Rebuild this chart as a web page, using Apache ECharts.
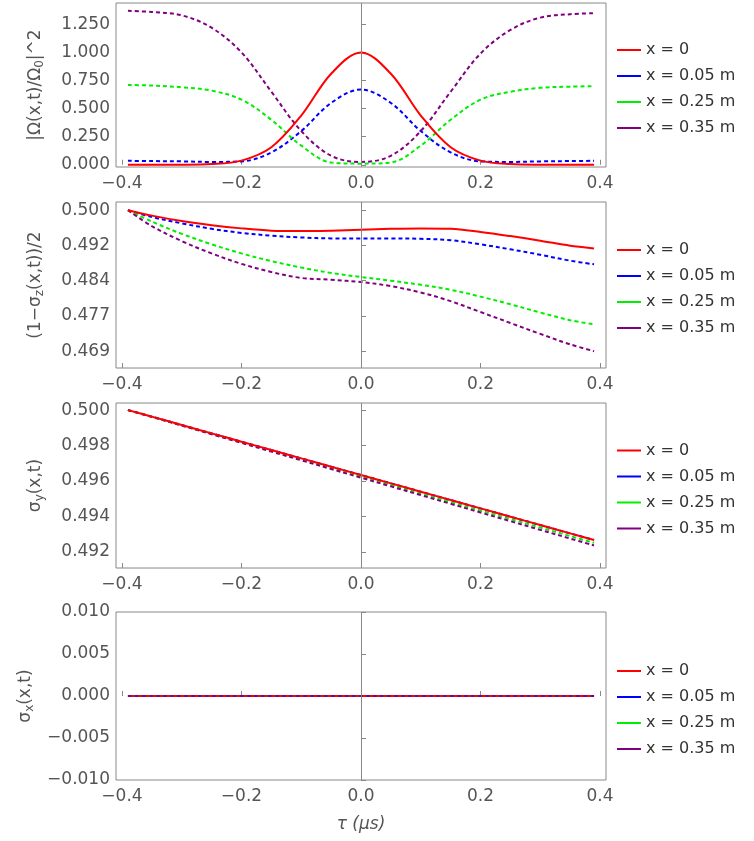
<!DOCTYPE html>
<html><head><meta charset="utf-8">
<script src="https://cdn.jsdelivr.net/npm/echarts@6/dist/echarts.min.js"></script>
<style>body{margin:0;background:#fff}#main{width:754px;height:841px}</style>
</head><body><div id="main"></div>
<script>
var myChart = echarts.init(document.getElementById('main'));

// time points (μs)
var tau = [-0.39, -0.35, -0.3, -0.25, -0.2, -0.15, -0.1, -0.05, 0, 0.05, 0.1, 0.15, 0.2, 0.25, 0.3, 0.35, 0.39];
var names = ['x = 0', 'x = 0.05 m', 'x = 0.25 m', 'x = 0.35 m'];
var colors = ['#ff0000', '#0000ff', '#00ee00', '#800080'];

// panel 1: |Ω/Ω0|^2
var om0 = [0, 0, 0.0006, 0.006, 0.037, 0.156, 0.438, 0.81, 1.0, 0.81, 0.438, 0.156, 0.037, 0.006, 0.0006, 0, 0];
var om05 = [0.035, 0.033, 0.03, 0.025, 0.03, 0.11, 0.3, 0.55, 0.67, 0.55, 0.3, 0.11, 0.03, 0.025, 0.03, 0.033, 0.035];
var om25 = [0.71, 0.705, 0.69, 0.66, 0.58, 0.4, 0.17, 0.02, 0.01, 0.02, 0.17, 0.4, 0.58, 0.65, 0.685, 0.695, 0.70];
var om35 = [1.37, 1.36, 1.33, 1.22, 1.0, 0.65, 0.3, 0.08, 0.025, 0.08, 0.3, 0.65, 0.99, 1.2, 1.31, 1.34, 1.35];

// panel 2: (1-σz)/2
var sz0 = [0.5, 0.4988, 0.4976, 0.4967, 0.4960, 0.4955, 0.4954, 0.4955, 0.4957, 0.4959, 0.4960, 0.4959, 0.4952, 0.4943, 0.4933, 0.4922, 0.4916];
var sz05 = [0.5, 0.4985, 0.4971, 0.4959, 0.4950, 0.4944, 0.4940, 0.4938, 0.4938, 0.4938, 0.4937, 0.4934, 0.4925, 0.4914, 0.4902, 0.4889, 0.4881];
var sz25 = [0.5, 0.4975, 0.4948, 0.4925, 0.4905, 0.4888, 0.4874, 0.4862, 0.4853, 0.4845, 0.4836, 0.4825, 0.4810, 0.4793, 0.4775, 0.4758, 0.4749];
var sz35 = [0.5, 0.4965, 0.4932, 0.4905, 0.4882, 0.4864, 0.4851, 0.4847, 0.4842, 0.4833, 0.4819, 0.4800, 0.4776, 0.4752, 0.4728, 0.4705, 0.4690];

// panel 3: σy
var sy0 = [0.5, 0.49963, 0.49916, 0.49869, 0.49822, 0.49775, 0.49728, 0.49681, 0.49634, 0.49587, 0.49540, 0.49493, 0.49446, 0.49399, 0.49352, 0.49305, 0.49268];
var sy05 = [0.5, 0.49963, 0.49916, 0.49869, 0.49822, 0.49775, 0.49728, 0.49681, 0.49634, 0.49587, 0.49540, 0.49493, 0.49446, 0.49399, 0.49352, 0.49305, 0.49268];
var sy25 = [0.5, 0.49962, 0.49914, 0.49866, 0.49818, 0.49770, 0.49722, 0.49674, 0.49626, 0.49578, 0.49530, 0.49482, 0.49434, 0.49386, 0.49338, 0.49290, 0.49252];
var sy35 = [0.5, 0.49962, 0.49913, 0.49864, 0.49815, 0.49766, 0.49717, 0.49668, 0.49619, 0.49570, 0.49521, 0.49472, 0.49423, 0.49374, 0.49325, 0.49276, 0.49237];

// panel 4: σx
var sx = [0, 0, 0, 0, 0, 0, 0, 0, 0, 0, 0, 0, 0, 0, 0, 0, 0];

var yTicks = [
  [0, 0.25, 0.5, 0.75, 1.0, 1.25],
  [0.469, 0.47675, 0.4845, 0.49225, 0.5],
  [0.492, 0.494, 0.496, 0.498, 0.5],
  [-0.01, -0.005, 0, 0.005, 0.01]
];
var yLabelsTxt = [
  ['0.000', '0.250', '0.500', '0.750', '1.000', '1.250'],
  ['0.469', '0.477', '0.484', '0.492', '0.500'],
  ['0.492', '0.494', '0.496', '0.498', '0.500'],
  ['\u22120.010', '\u22120.005', '0.000', '0.005', '0.010']
];
var yRange = [[-0.02, 1.44], [0.4653, 0.5018], [0.4911, 0.5004], [-0.01, 0.01]];
var yNames = [
  '|\u03A9(x,t)/\u03A9{s|0}|^2',
  '(1\u2212\u03C3{s|z}(x,t))/2',
  '\u03C3{s|y}(x,t)',
  '\u03C3{s|x}(x,t)'
];
var panelData = [[om0, om05, om25, om35], [sz0, sz05, sz25, sz35], [sy0, sy05, sy25, sy35], [sx, sx, sx, sx]];
var tops = [3, 202, 403, 612];
var bottoms = [167, 368, 568, 780];

var grid = [], xAxis = [], yAxis = [], series = [], legend = [];
for (var p = 0; p < 4; p++) {
  grid.push({ left: 116, width: 490, top: tops[p], height: bottoms[p] - tops[p], show: true, borderColor: '#888', borderWidth: 1 });
  xAxis.push({
    type: 'value', gridIndex: p, min: -0.41, max: 0.41,
    name: p === 3 ? '\u03C4 (\u03BCs)' : '', nameLocation: 'middle', nameGap: 36,
    nameTextStyle: { fontSize: 17, color: '#555', fontStyle: 'italic', fontFamily: 'DejaVu Sans' },
    axisLine: { show: false },
    axisTick: { inside: true, length: 5, lineStyle: { color: '#888' }, customValues: [-0.4, -0.2, 0, 0.2, 0.4] },
    splitLine: { show: false },
    axisLabel: { customValues: [-0.4, -0.2, 0, 0.2, 0.4], fontSize: 17, color: '#555', fontFamily: 'DejaVu Sans',
      formatter: function (v) { return (v < 0 ? '\u2212' : '') + Math.abs(v).toFixed(1); } }
  });
  (function (p) {
    yAxis.push({
      type: 'value', gridIndex: p, min: yRange[p][0], max: yRange[p][1],
      name: yNames[p], nameLocation: 'middle', nameGap: p === 3 ? 80 : 70, nameRotate: 90,
      nameTextStyle: { fontSize: 17, color: '#555', fontFamily: 'DejaVu Sans', rich: { s: { fontSize: 12, color: '#555', padding: [8, 0, 0, 0] } } },
      axisLine: { show: false },
      axisTick: { inside: true, length: 5, lineStyle: { color: '#888' }, customValues: yTicks[p] },
      splitLine: { show: false },
      axisLabel: { customValues: yTicks[p], fontSize: 17, color: '#555', fontFamily: 'DejaVu Sans', margin: 6,
        formatter: function (v) {
          var i = yTicks[p].indexOf(v);
          return i >= 0 ? yLabelsTxt[p][i] : '';
        } }
    });
  })(p);
  legend.push({
    data: names, orient: 'vertical', left: 612, top: (tops[p] + bottoms[p]) / 2 - 48 + (p === 3 ? 10 : 0),
    itemWidth: 24, itemHeight: 2, itemGap: 10, icon: 'rect',
    textStyle: { fontSize: 16, color: '#333', fontFamily: 'DejaVu Sans' }
  });
  for (var s = 0; s < 4; s++) {
    var d = panelData[p][s].map(function (v, i) { return [tau[i], v]; });
    var ser = {
      name: names[s], type: 'line', xAxisIndex: p, yAxisIndex: p, data: d,
      smooth: 0.35, showSymbol: false, color: colors[s],
      lineStyle: { width: 2, type: s === 0 ? 'solid' : [4, 3] }, z: (s === 0) !== (p === 3) ? 3 : 2
    };
    if (s === 0) {
      ser.markLine = { silent: true, symbol: 'none', label: { show: false },
        lineStyle: { color: '#888', width: 1, type: 'solid' }, data: [{ xAxis: 0 }] };
    }
    series.push(ser);
  }
}
var option = { animation: false, color: colors, grid: grid, xAxis: xAxis, yAxis: yAxis, legend: legend, series: series };
myChart.setOption(option);
</script>
</body></html>
